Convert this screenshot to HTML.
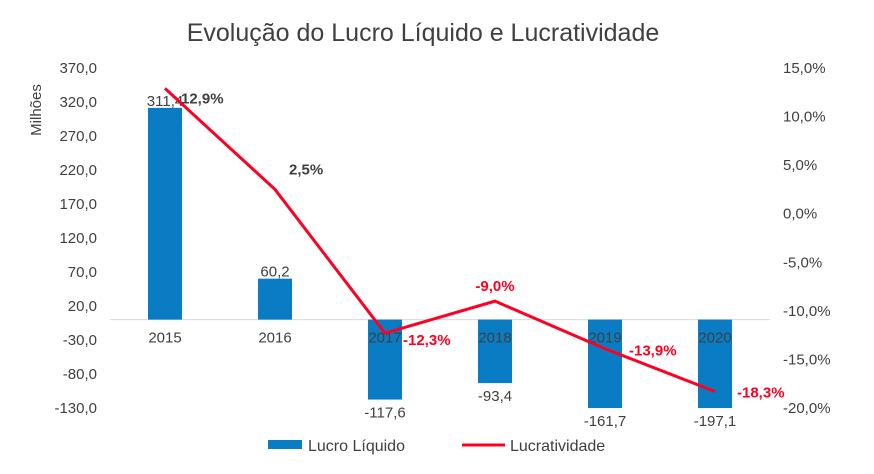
<!DOCTYPE html>
<html><head><meta charset="utf-8"><style>
body{margin:0;background:#fff;width:874px;height:469px;overflow:hidden}
svg{font-family:"Liberation Sans",sans-serif}
</style></head><body>
<svg id="chart" width="874" height="469">
<text x="423" y="41" text-anchor="middle" font-size="25" fill="#404040">Evolução do Lucro Líquido e Lucratividade</text>
<text transform="translate(41,110) rotate(-90)" text-anchor="middle" font-size="15" fill="#404040">Milhões</text>
<g id="g"></g>
<rect x="268" y="440" width="34" height="9" fill="#0a7cc4"/>
<text x="308" y="451" font-size="16" fill="#404040">Lucro Líquido</text>
<line x1="462" y1="445" x2="505" y2="445" stroke="#ff0022" stroke-width="3"/>
<text x="510" y="451" font-size="16" fill="#404040">Lucratividade</text>
</svg>
<script>
const categories=["2015","2016","2017","2018","2019","2020"];
const lucro=[311.4,60.2,-117.6,-93.4,-161.7,-197.1];
const lucratividade=[12.9,2.5,-12.3,-9.0,-13.9,-18.3];
const leftTicks=[370,320,270,220,170,120,70,20,-30,-80,-130];
const rightTicks=[15,10,5,0,-5,-10,-15,-20];
const NS="http://www.w3.org/2000/svg";
const g=document.getElementById('g');
const yMin=-130;
const yL=v=>68+(370-Math.max(v,yMin))*0.68;
const yR=v=>68+(15-v)*(340/35);
const x=i=>165+i*110;
const fmt=v=>v.toFixed(1).replace('.',',');
function mk(t,a,txt){const e=document.createElementNS(NS,t);for(const k in a)e.setAttribute(k,a[k]);if(txt!==undefined)e.textContent=txt;g.appendChild(e);return e;}
leftTicks.forEach(v=>{const e=mk('text',{x:97,y:yL(v)+5,'text-anchor':'end','font-size':15,fill:'#404040'},fmt(v));

});
rightTicks.forEach(v=>{const e=mk('text',{x:783,y:yR(v)+5,'font-size':15,fill:'#404040'},fmt(v)+'%');

});
const ax=mk('line',{x1:110,x2:770,y1:yL(0),y2:yL(0),stroke:'#d9d9d9','stroke-width':1});


lucro.forEach((v,i)=>{const y0=yL(0),y1=yL(v);
const r=mk('rect',{x:x(i)-17,y:Math.min(y0,y1),width:34,height:Math.abs(y1-y0),fill:'#0a7cc4'});


const t=mk('text',{x:x(i),y:v>=0?y1-2:y1+18,'text-anchor':'middle','font-size':15,fill:'#404040'},fmt(v));

});
categories.forEach((c,i)=>{const t=mk('text',{x:x(i),y:yL(0)+23,'text-anchor':'middle','font-size':15,fill:'#404040'},c);

});
const pl=mk('polyline',{points:lucratividade.map((v,i)=>x(i)+','+yR(v)).join(' '),fill:'none',stroke:'#ff0022','stroke-width':3});


const off=[[16,10],[14,-20],[18,7],[0,-15],[24,2],[22,1]];
lucratividade.forEach((v,i)=>{const t=mk('text',{x:x(i)+off[i][0],y:yR(v)+off[i][1]+5,'font-size':15,'font-weight':'bold',fill:v<0?'#ff0022':'#404040','text-anchor':i==3?'middle':'start'},fmt(v)+'%');

});
</script>
</body></html>
